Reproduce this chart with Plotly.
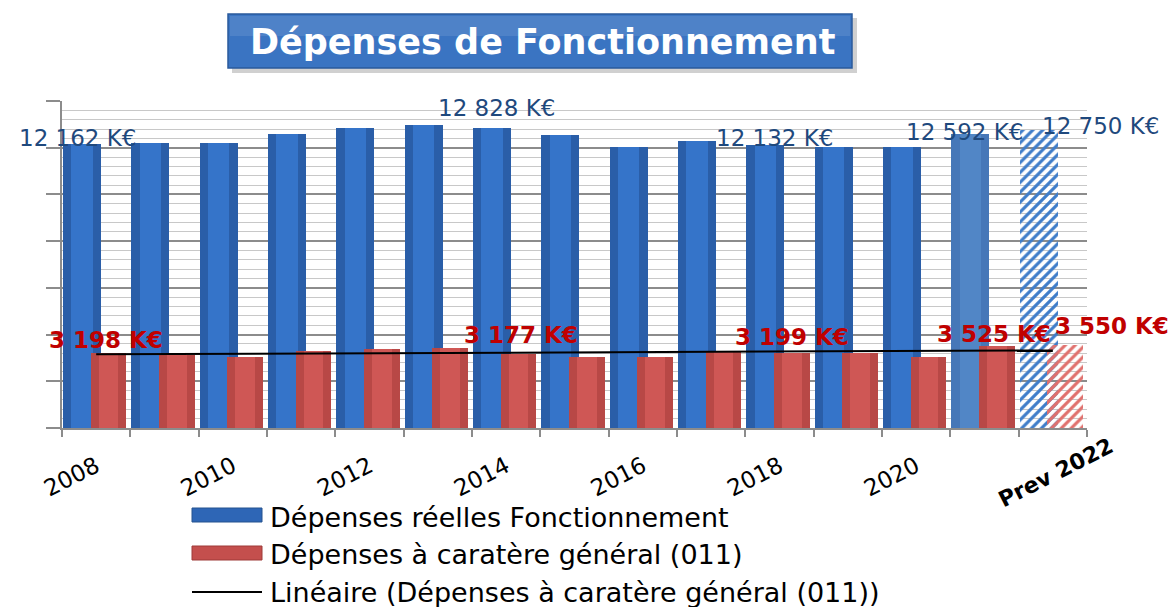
import numpy as np
import plotly.graph_objects as go

# ---------------- data ----------------
categories = ["2008", "2009", "2010", "2011", "2012", "2013", "2014", "2015",
              "2016", "2017", "2018", "2019", "2020", "2021", "Prev 2022"]
depenses_reelles = [12162, 12210, 12200, 12590, 12850, 12980, 12828, 12550,
                    12030, 12275, 12132, 12020, 12020, 12592, 12750]
depenses_011 = [3198, 3140, 3050, 3310, 3400, 3410, 3177, 3050,
                3050, 3250, 3199, 3210, 3050, 3525, 3550]
tick_labels = ["2008", "", "2010", "", "2012", "", "2014", "", "2016", "",
               "2018", "", "2020", "", ""]
labelled_idx = [0, 6, 10, 13, 14]
series_names = ["Dépenses réelles Fonctionnement",
                "Dépenses à caratère général (011)",
                "Linéaire (Dépenses à caratère général (011))"]
title_text = "Dépenses de Fonctionnement"

# ---------------- layout geometry (pixels) ----------------
W, H = 1176, 607
ML, MR, MT, MB = 62, 89, 101, 179
PW, PH = W - ML - MR, H - MT - MB


def px(x):
    return (x - ML) / PW


def py(y):
    return (H - MB - y) / PH


x_idx = list(range(len(categories)))
n = len(categories)
last = n - 1

BLUE_OFF, BLUE_W = -0.485, 0.556
RED_OFF, RED_W = -0.08, 0.52

BLUE_HATCH = "#3F7DC9"
RED_HATCH = "#E0706D"

blue_base = ["#2A5EA8"] * n
blue_hi = ["#3574C9"] * n
blue_base[13] = "#4677B8"
blue_hi[13] = "#5186C6"
blue_base[last] = BLUE_HATCH
red_base = ["#B84846"] * n
red_hi = ["#CF5755"] * n
red_base[last] = RED_HATCH

pattern_shapes = [""] * last + ["/"]

hi_blue_vals = [v if i != last else None for i, v in enumerate(depenses_reelles)]
hi_red_vals = [v if i != last else None for i, v in enumerate(depenses_011)]

fig = go.Figure()

fig.add_trace(go.Bar(
    x=x_idx, y=depenses_reelles, name=series_names[0],
    offset=BLUE_OFF, width=BLUE_W,
    marker=dict(color=blue_base, line=dict(width=0),
                pattern=dict(shape=pattern_shapes, fgcolor=BLUE_HATCH,
                             bgcolor="white", fgopacity=1,
                             size=7, solidity=0.45, fillmode="replace")),
    showlegend=False, hoverinfo="skip"))
fig.add_trace(go.Bar(
    x=x_idx, y=hi_blue_vals,
    offset=BLUE_OFF + BLUE_W * 0.22, width=BLUE_W * 0.56,
    marker=dict(color=blue_hi, line=dict(width=0)),
    showlegend=False, hoverinfo="skip"))
fig.add_trace(go.Bar(
    x=x_idx, y=depenses_011, name=series_names[1],
    offset=RED_OFF, width=RED_W,
    marker=dict(color=red_base, line=dict(width=0),
                pattern=dict(shape=pattern_shapes, fgcolor=RED_HATCH,
                             bgcolor="white", fgopacity=1,
                             size=7, solidity=0.45, fillmode="replace")),
    showlegend=False, hoverinfo="skip"))
fig.add_trace(go.Bar(
    x=x_idx, y=hi_red_vals,
    offset=RED_OFF + RED_W * 0.22, width=RED_W * 0.56,
    marker=dict(color=red_hi, line=dict(width=0)),
    showlegend=False, hoverinfo="skip"))

# linear trend of the (011) series
slope, intercept = np.polyfit(x_idx, depenses_011, 1)
trend = [slope * i + intercept for i in x_idx]
fig.add_trace(go.Scatter(
    x=x_idx, y=trend, mode="lines", name=series_names[2],
    line=dict(color="black", width=2), showlegend=False, hoverinfo="skip"))


def fmt(v):
    return f"{v:,}".replace(",", " ") + " K€"


annotations = []
blue_shift = {0: (-4, 6), 6: (5, 20), 10: (10, 7), 13: (-5, 2), 14: (62, 4)}
red_shift = {0: (-2, 13), 6: (3, 19), 10: (0, 16), 13: (-3, 12), 14: (47, 19)}
blue_c = BLUE_OFF + BLUE_W / 2
red_c = RED_OFF + RED_W / 2
for i in labelled_idx:
    dx, dy = blue_shift[i]
    annotations.append(dict(
        x=i + blue_c, y=depenses_reelles[i], xref="x", yref="y",
        text=fmt(depenses_reelles[i]), showarrow=False,
        xshift=dx, yshift=dy, xanchor="center", yanchor="middle",
        font=dict(family="DejaVu Sans", size=23, color="#1F497D")))
for i in labelled_idx:
    dx, dy = red_shift[i]
    annotations.append(dict(
        x=i + red_c, y=depenses_011[i], xref="x", yref="y",
        text="<b>" + fmt(depenses_011[i]) + "</b>", showarrow=False,
        xshift=dx, yshift=dy, xanchor="center", yanchor="middle",
        font=dict(family="DejaVu Sans", size=23, color="#C00000")))

# last category label (centred on its category in the reference)
annotations.append(dict(
    x=last, y=py(472), xref="x", yref="paper",
    text="<b>" + categories[last] + "</b>", showarrow=False,
    textangle=-27, xanchor="center", yanchor="middle", xshift=3,
    font=dict(family="DejaVu Sans", size=22, color="black")))

shapes = []
# title box with shadow
shapes.append(dict(type="rect", xref="paper", yref="paper",
                   x0=px(232), x1=px(857), y0=py(73), y1=py(18),
                   fillcolor="rgba(120,120,120,0.35)", line=dict(width=0),
                   layer="above"))
shapes.append(dict(type="rect", xref="paper", yref="paper",
                   x0=px(228), x1=px(852), y0=py(68), y1=py(14),
                   fillcolor="#3A74C2", line=dict(color="#2A5A9C", width=1.5),
                   layer="above"))
shapes.append(dict(type="rect", xref="paper", yref="paper",
                   x0=px(230), x1=px(850), y0=py(36), y1=py(16),
                   fillcolor="rgba(255,255,255,0.10)", line=dict(width=0),
                   layer="above"))
annotations.append(dict(
    x=px(542), y=py(42), xref="paper", yref="paper", text="<b>" + title_text + "</b>",
    showarrow=False, xanchor="center", yanchor="middle",
    font=dict(family="DejaVu Sans", size=35, color="white")))

# custom legend
shapes.append(dict(type="rect", xref="paper", yref="paper",
                   x0=px(192), x1=px(262), y0=py(522), y1=py(508),
                   fillcolor="#2E66B6", line=dict(color="#24528F", width=1)))
shapes.append(dict(type="rect", xref="paper", yref="paper",
                   x0=px(192), x1=px(262), y0=py(560), y1=py(546),
                   fillcolor="#C44F4D", line=dict(color="#9E3B39", width=1)))
shapes.append(dict(type="line", xref="paper", yref="paper",
                   x0=px(192), x1=px(262), y0=py(592), y1=py(592),
                   line=dict(color="black", width=2)))
for name, yc in zip(series_names, [517, 554, 592]):
    annotations.append(dict(
        x=px(268), y=py(yc), xref="paper", yref="paper", text=name,
        showarrow=False, xanchor="left", yanchor="middle",
        font=dict(family="DejaVu Sans", size=27, color="black")))

fig.update_layout(
    width=W, height=H,
    margin=dict(l=ML, r=MR, t=MT, b=MB),
    paper_bgcolor="white", plot_bgcolor="white",
    barmode="overlay", bargap=0,
    showlegend=False,
    annotations=annotations, shapes=shapes,
    xaxis=dict(range=[-0.5, n - 0.5], tickmode="array", tickvals=x_idx,
               ticktext=tick_labels, tickangle=-27, ticks="",
               ticklabelstandoff=14,
               showgrid=False, zeroline=False,
               showline=True, linecolor="#8C8C8C", linewidth=2,
               tickfont=dict(family="DejaVu Sans", size=23, color="black"),
               minor=dict(tickmode="linear", tick0=-0.5, dtick=1,
                          ticks="outside", ticklen=7, tickwidth=2,
                          tickcolor="#8C8C8C", showgrid=False)),
    yaxis=dict(range=[0, 14000], dtick=2000, showticklabels=False,
               ticks="outside", ticklen=14, tickwidth=2, tickcolor="#8C8C8C",
               showgrid=True, gridcolor="#8C8C8C", gridwidth=1.5,
               zeroline=False, showline=True, linecolor="#8C8C8C", linewidth=2,
               minor=dict(dtick=400, showgrid=True, gridcolor="#C8C8C8",
                          gridwidth=1, ticks="")),
)

fig.write_html(
    "out.html",
    config={"displayModeBar": False},
    post_script="document.body.style.margin='0';document.body.style.overflow='hidden';")
